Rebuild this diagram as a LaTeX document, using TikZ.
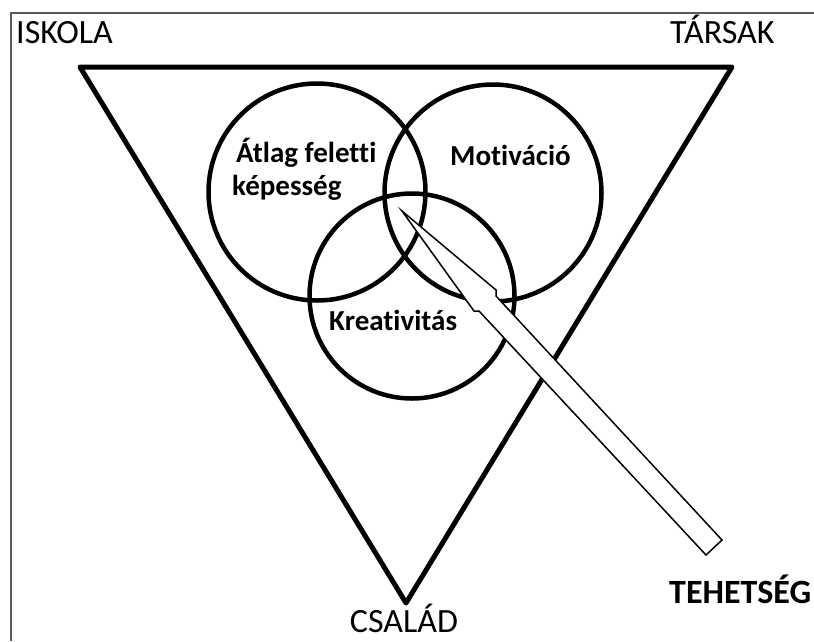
\documentclass[tikz,border=0pt]{standalone}
\usepackage{fontspec}
\setmainfont{Carlito}[Ligatures=NoCommon]
\usepackage{tikz}
\usetikzlibrary{positioning}
\definecolor{framegray}{RGB}{90,90,90}

\begin{document}
\begin{tikzpicture}[x=1pt, y=-1pt,
        corner/.style={inner sep=0pt, font=\fontsize{34}{40}\selectfont},
        inlbl/.style={inner sep=0pt, font=\fontsize{29}{33}\selectfont\bfseries},
        ring/.style={draw, circle, line width=4.5pt, inner sep=0pt}]
            \useasboundingbox (0,0) rectangle (814,641);

            % Frame
            \draw[framegray, line width=2pt] (11,641) -- (11,13) -- (814,13);

            % Triangle
            \coordinate (TL) at (80,67);
            \coordinate (TR) at (732,67);
            \coordinate (BT) at (406,603);
            \draw[line width=5pt, line join=round] (TL) -- (TR) -- (BT) -- cycle;

            % Circles
            \node[ring, minimum size=217pt] (A) at (317,192) {};
            \node[ring, minimum size=217pt] (M) at (493,193) {};
            \node[ring, minimum size=205pt] (K) at (412,296) {};

            % Arrow
            \coordinate (tip) at (402,211);
            \coordinate (rb) at (496,290);
            \coordinate (rn) at (496,296);
            \coordinate (rt) at (722,540);
            \coordinate (lt) at (706,555);
            \coordinate (ln) at (479,311);
            \coordinate (lb) at (474,311);
            \draw[line width=1.5pt, fill=white] (tip) -- (rb) -- (rn) -- (rt) -- (lt) -- (ln) -- (lb) -- cycle;

            % Labels
            \node[corner, anchor=base west] (iskola) at (16,43) {ISKOLA};
            \node[corner, anchor=base west] (tarsak) at (670,43) {TÁRSAK};
            \node[corner, anchor=base] (csalad) at (404,632) {CSALÁD};
            \node[corner, anchor=base west, font=\fontsize{34}{40}\selectfont\bfseries] (tehetseg) at (669,603) {TEHETSÉG};
            \node[inlbl, anchor=base west] (atlag) at (236,162) {Átlag feletti};
            \node[inlbl, anchor=base west] (kepes) at (232,195) {képesség};
            \node[inlbl, anchor=base west] (motiv) at (450,165) {Motiváció};
            \node[inlbl, anchor=base west] (kreat) at (329,330) {Kreativitás};

        \end{tikzpicture}
\end{document}
